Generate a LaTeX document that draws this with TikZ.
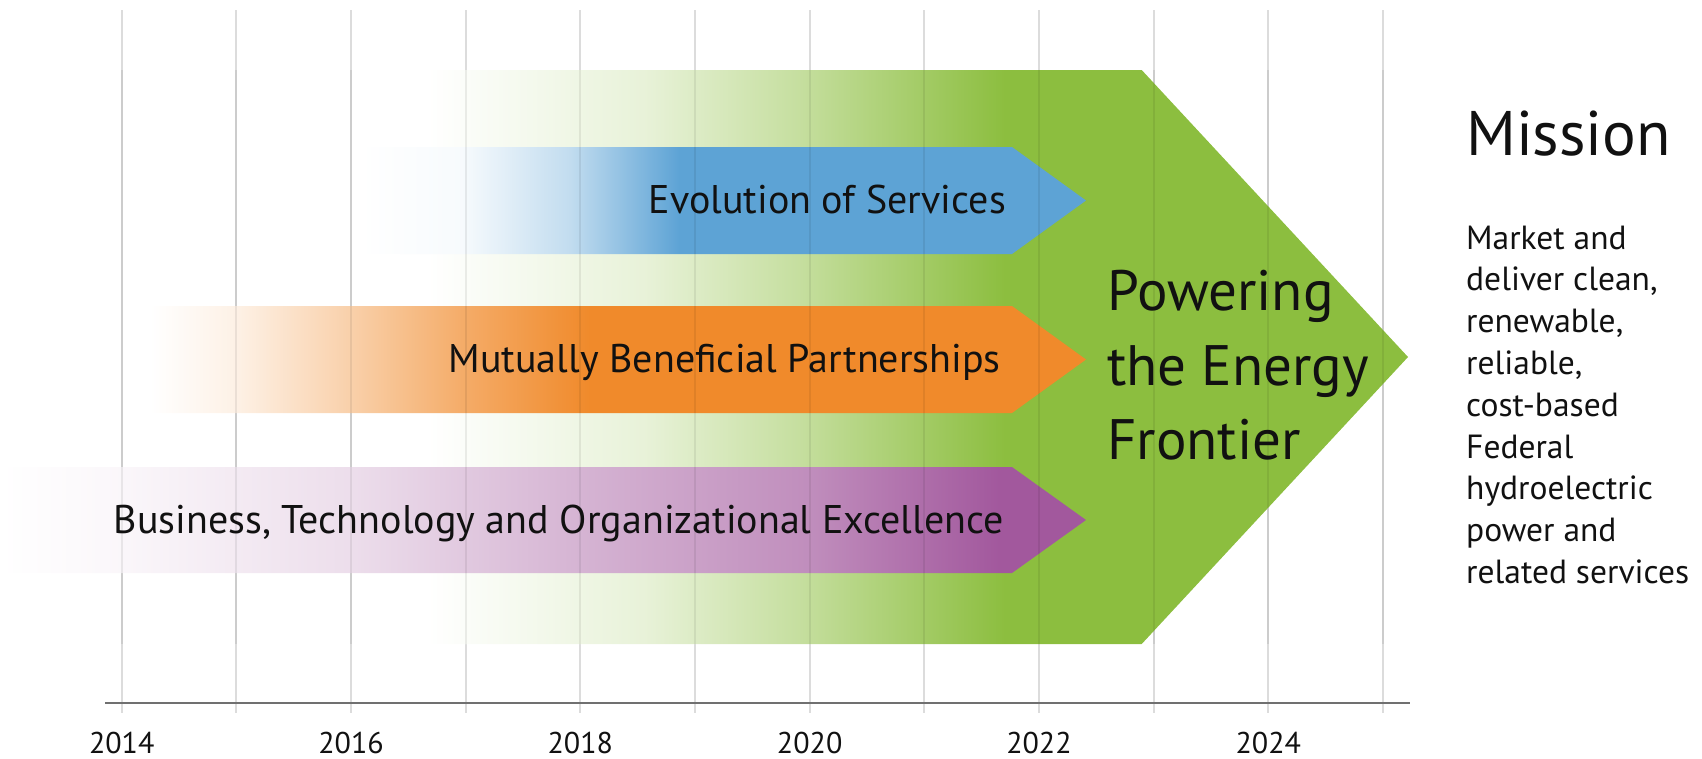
\documentclass[tikz,border=0pt]{standalone}
\usepackage{fontspec}
\setmainfont{PT Sans}
\definecolor{greenc}{HTML}{8CBE3F}
\definecolor{bluec}{HTML}{5DA3D5}
\definecolor{orangec}{HTML}{F08A2B}
\definecolor{purplec}{HTML}{A2589D}
\definecolor{gridc}{HTML}{DCDCDC}
\definecolor{axisc}{HTML}{707070}
\definecolor{textc}{HTML}{111111}
\pgfdeclarehorizontalshading{greenfade}{100bp}{color(0bp)=(white); color(26.4bp)=(white); color(37.1bp)=(greenc!20); color(44.8bp)=(greenc!50); color(55bp)=(greenc); color(100bp)=(greenc)}
\pgfdeclarehorizontalshading{bluefade}{100bp}{color(0bp)=(white); color(25bp)=(white); color(32bp)=(bluec!5); color(39.5bp)=(bluec!38); color(47bp)=(bluec); color(100bp)=(bluec)}
\pgfdeclarehorizontalshading{orangefade}{100bp}{color(0bp)=(white); color(25bp)=(white); color(29.6bp)=(orangec!12); color(35.7bp)=(orangec!40); color(41.9bp)=(orangec!72); color(48.5bp)=(orangec); color(100bp)=(orangec)}
\pgfdeclarehorizontalshading{purplefade}{100bp}{color(0bp)=(white); color(25bp)=(white); color(30.6bp)=(purplec!5); color(41.2bp)=(purplec!20); color(51.7bp)=(purplec!45); color(62.3bp)=(purplec!68); color(71bp)=(purplec); color(100bp)=(purplec)}
\tikzset{
  gridline/.style={gridc, line width=1.8pt},
  gridover/.style={black, opacity=0.07, line width=1.8pt},
  axisline/.style={axisc, line width=2pt},
  bandlabel/.style={anchor=base east, inner sep=0pt, text=textc, font=\fontsize{40}{44}\selectfont},
  biglabel/.style={anchor=base west, inner sep=0pt, text=textc, font=\fontsize{57}{62}\selectfont},
  missionlabel/.style={anchor=base west, inner sep=0pt, text=textc, font=\fontsize{63}{70}\selectfont},
  bodylabel/.style={anchor=base west, inner sep=0pt, text=textc, font=\fontsize{33.5}{37}\selectfont},
  yearlabel/.style={anchor=base, inner sep=0pt, text=textc, font=\fontsize{30}{34}\selectfont}
}
\begin{document}
\begin{tikzpicture}[x=1pt,y=-1pt]
\useasboundingbox (0,0) rectangle (1702,758);
% grid lines (behind)
\foreach \i in {0,...,11}{
  \draw[gridline] ({121.7+114.66*\i},10) -- ({121.7+114.66*\i},713);
}
% big green arrow
\shade[shading=greenfade] (400,70) -- (1141.7,70) -- (1408,357) -- (1141.7,644) -- (400,644) -- cycle;
% band arrows
\shade[shading=bluefade] (360,147) -- (1012,147) -- (1086,200.5) -- (1012,254) -- (360,254) -- cycle;
\shade[shading=orangefade] (150,306) -- (1012,306) -- (1086,359.5) -- (1012,413) -- (150,413) -- cycle;
\shade[shading=purplefade] (0,467) -- (1012,467) -- (1086,520) -- (1012,573) -- (0,573) -- cycle;
% grid lines faintly over the shapes
\foreach \i in {0,...,11}{
  \draw[gridover] ({121.7+114.66*\i},70) -- ({121.7+114.66*\i},644);
}
% axis
\coordinate (axL) at (105,703);
\coordinate (axR) at (1410,703);
\draw[axisline] (axL) -- (axR);
% year labels
\foreach \yr/\i in {2014/0,2016/2,2018/4,2020/6,2022/8,2024/10}{
  \node[yearlabel] (y\yr) at ({121.7+114.66*\i},753) {\yr};
}
% band labels
\node[bandlabel] (evo) at (1006,213) {Evolution of Services};
\node[bandlabel] (mut) at (1001,372) {Mutually Beneficial Partnerships};
\node[bandlabel] (bus) at (1004,533) {Business, Technology and Organizational Excellence};
% powering text
\node[biglabel] (pw1) at (1107,310) {Powering};
\node[biglabel] (pw2) at (1107,385) {the Energy};
\node[biglabel] (pw3) at (1107,459) {Frontier};
% mission
\node[missionlabel] (mis) at (1466,155) {Mission};
\node[bodylabel] (m1) at (1466,249) {Market and};
\node[bodylabel] (m2) at (1466,290.8) {deliver clean,};
\node[bodylabel] (m3) at (1466,332.6) {renewable,};
\node[bodylabel] (m4) at (1466,374.4) {reliable,};
\node[bodylabel] (m5) at (1466,416.2) {cost-based};
\node[bodylabel] (m6) at (1466,458) {Federal};
\node[bodylabel] (m7) at (1466,499.8) {hydroelectric};
\node[bodylabel] (m8) at (1466,541.6) {power and};
\node[bodylabel] (m9) at (1466,583.4) {related services};
\end{tikzpicture}
\end{document}
